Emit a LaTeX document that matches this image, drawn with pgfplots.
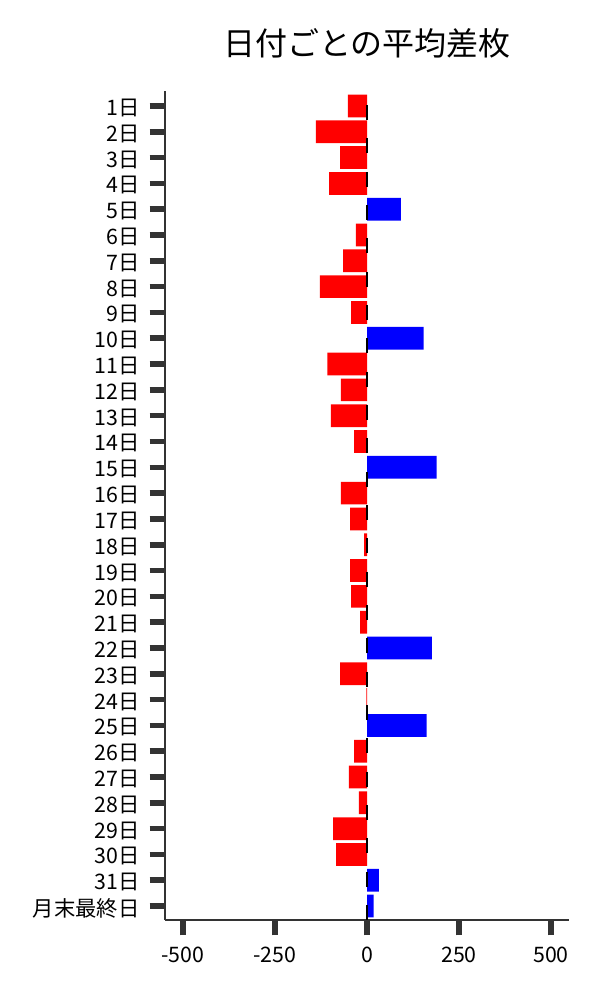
\documentclass[border=0pt]{standalone}
\usepackage{pgfplots}
\pgfplotsset{compat=1.18}
\usepackage{fontspec}
\setmainfont{Noto Sans CJK JP}
\definecolor{spine}{HTML}{333333}

\begin{document}
\begin{tikzpicture}
\path[use as bounding box] (0,0) rectangle (450pt,750pt);
\node[font=\fontsize{24}{28}\selectfont] at (275.25pt,717.75pt) {日付ごとの平均差枚};
\begin{axis}[
    at={(123.75pt,60pt)}, anchor=south west,
    scale only axis,
    width=303pt, height=621.75pt,
    xmin=-549, xmax=549,
    ymin=-0.58, ymax=31.54,
    y dir=reverse,
    axis x line*=bottom, axis y line*=left,
    axis line style={-, line width=1.1pt, color=spine},
    tick align=outside,
    major tick length=11.5pt,
    tick style={line width=4.2pt, color=spine},
    xtick={-500,-250,0,250,500},
    xticklabels={-500,-250,0,250,500},
    ytick={0,...,31},
    yticklabels={1日,2日,3日,4日,5日,6日,7日,8日,9日,10日,11日,12日,13日,14日,15日,16日,17日,18日,19日,20日,21日,22日,23日,24日,25日,26日,27日,28日,29日,30日,31日,月末最終日},
    tick label style={font=\fontsize{16}{19}\selectfont},
    xticklabel style={yshift=-5pt},
    yticklabel style={xshift=-4pt, yshift=-1.5pt},
]
% negative days (red)
\addplot[xbar, bar shift=0pt, bar width=0.88, fill=red, draw=none] coordinates {
    (-52,0) (-139,1) (-73,2) (-103,3) (-30,5) (-65,6) (-128,7) (-43,8)
    (-108,10) (-71,11) (-98,12) (-35,13) (-71,15) (-46,16) (-8,17)
    (-46,18) (-43,19) (-19,20) (-73,22) (-1.5,23) (-35,25) (-49,26)
    (-22,27) (-92,28) (-84,29)
};
% positive days (blue)
\addplot[xbar, bar shift=0pt, bar width=0.88, fill=blue, draw=none] coordinates {
    (92,4) (154,9) (189,14) (176,21) (162,24) (32,30) (18,31)
};
% zero line
\addplot[black, line width=1.5pt, dash pattern=on 11.25pt off 13.75pt] coordinates {(0,31.54) (0,-0.58)};
\end{axis}
\end{tikzpicture}
\end{document}
